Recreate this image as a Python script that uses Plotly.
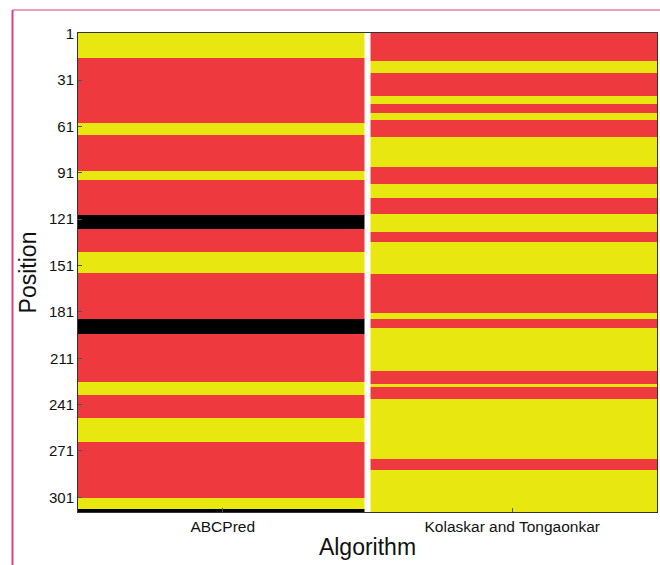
import plotly.graph_objects as go

# Data: run-length encoded predictions along the sequence (1-based positions)
algorithms = ["ABCPred", "Kolaskar and Tongaonkar"]
n_positions = 310

abc_run_ends = [16, 58, 66, 89, 95, 118, 127, 142, 155, 185, 195, 226, 234, 249, 265, 301, 308, 310]
abc_run_class = ["Y", "R", "Y", "R", "Y", "R", "B", "R", "Y", "R", "B", "R", "Y", "R", "Y", "R", "Y", "B"]

kt_run_ends = [18, 26, 41, 46, 52, 56, 67, 87, 98, 107, 117, 129, 135, 156, 181, 185, 191, 219, 227, 229, 237, 276, 283, 310]
kt_run_class = ["R", "Y", "R", "Y", "R", "Y", "R", "Y", "R", "Y", "R", "Y",
                "R", "Y", "R", "Y", "R", "Y", "R", "Y", "R", "Y", "R", "Y"]

tick_vals = [1, 31, 61, 91, 121, 151, 181, 211, 241, 271, 301]

class_code = {"Y": 0, "R": 1, "B": 2}
YELLOW = "#E8E810"
RED = "#EE3A3E"
BLACK = "#000000"


def expand(ends, classes):
    out = []
    start = 1
    for e, c in zip(ends, classes):
        out.extend([class_code[c]] * (e - start + 1))
        start = e + 1
    return out


abc = expand(abc_run_ends, abc_run_class)
kt = expand(kt_run_ends, kt_run_class)
positions = list(range(1, n_positions + 1))
z = [[a, k] for a, k in zip(abc, kt)]

fig = go.Figure(go.Heatmap(
    z=z, x=algorithms, y=positions,
    zmin=0, zmax=2,
    colorscale=[[0, YELLOW], [1/3, YELLOW], [1/3, RED], [2/3, RED], [2/3, BLACK], [1, BLACK]],
    showscale=False, hoverinfo="skip",
))

font = "Liberation Sans, Arial, sans-serif"

fig.update_layout(
    width=660, height=565,
    margin=dict(l=78, r=3, t=33, b=53),
    paper_bgcolor="white", plot_bgcolor="white",
    font=dict(family=font, color="#111"),
    shapes=[
        # white separator between the two columns
        dict(type="line", xref="x", yref="paper", x0=0.5, x1=0.5, y0=0, y1=1,
             line=dict(color="white", width=6)),
        # pink frame of the figure
        dict(type="line", xref="paper", yref="paper", x0=-0.1131, x1=1.01, y0=1.048, y1=1.048,
             line=dict(color="#EAA0BC", width=2)),
        dict(type="line", xref="paper", yref="paper", x0=-0.1131, x1=-0.1131, y0=-0.12, y1=1.048,
             line=dict(color="#E0407C", width=2)),
    ],
)

fig.update_xaxes(
    type="category", showgrid=False, zeroline=False,
    showline=True, linecolor="#333", linewidth=1, mirror=True,
    ticks="inside", ticklen=4, tickcolor="#555",
    tickfont=dict(size=15.5, family=font, color="#111"),
    title=dict(text="Algorithm", font=dict(size=23, family=font, color="#111"), standoff=5),
)
fig.update_yaxes(
    range=[n_positions + 0.5, 0.5], showgrid=False, zeroline=False,
    tickvals=tick_vals, ticktext=[str(v) for v in tick_vals],
    showline=True, linecolor="#333", linewidth=1, mirror=True,
    ticks="inside", ticklen=4, tickcolor="#555",
    tickfont=dict(size=15, family=font, color="#111"),
    title=dict(text="Position", font=dict(size=23, family=font, color="#111"), standoff=5),
)

fig.write_html("out.html", config={"displayModeBar": False},
               post_script="document.body.style.margin='0';")
